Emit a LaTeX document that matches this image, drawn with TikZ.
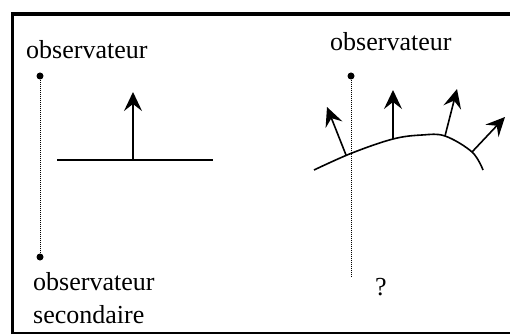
\documentclass[tikz,border=0pt]{standalone}
\usepackage{fontspec}
\setmainfont{Liberation Serif}
\usetikzlibrary{arrows.meta}
\begin{document}
\begin{tikzpicture}[x=1pt,y=-1pt,
  lbl/.style={inner sep=0pt,anchor=base west,font=\fontsize{26}{30}\selectfont},
  dot/.style={circle,fill=black,inner sep=0pt,minimum size=7pt},
  sight/.style={densely dotted,line width=1pt},
  normalarrow/.style={line width=1.6pt,-{Stealth[length=19pt,width=18pt,inset=7pt]}},
  surface/.style={line width=1.6pt}]
\useasboundingbox (0,0) rectangle (510,336);
% frame
\draw[line width=3.5pt] (12.5,334) -- (12.5,12);
\draw[line width=4pt] (10.75,14) -- (510,14);
\draw[line width=1.5pt] (11,333) -- (510,333);
% left panel
\node[lbl] (obs1) at (26,59) {observateur};
\node[dot] (d1) at (40,76) {};
\node[dot] (d2) at (40,257) {};
\draw[sight] (d1) -- (d2);
\node[lbl] (obs2) at (33,290) {observateur};
\node[lbl] (sec) at (33,323) {secondaire};
\coordinate (h1) at (57,160);
\coordinate (h2) at (213,160);
\draw[line width=1.4pt] (h1) -- (h2);
\coordinate (a0) at (133,160);
\coordinate (a0t) at (133,92);
\draw[normalarrow] (a0) -- (a0t);
% right panel
\node[lbl] (obs3) at (330,51) {observateur};
\node[dot] (d3) at (351,76) {};
\coordinate (d3b) at (351,277);
\draw[sight] (d3) -- (d3b);
\node[lbl,anchor=base] (q) at (381,295) {?};
\draw[surface] plot[smooth,tension=0.6] coordinates {(314,170) (352,153) (393,139) (422,135) (445,136) (472,152) (483,170)};
\coordinate (b1) at (346,155); \coordinate (t1) at (327,107);
\coordinate (b2) at (393,139); \coordinate (t2) at (393,90);
\coordinate (b3) at (445,136); \coordinate (t3) at (457,89);
\coordinate (b4) at (472,152); \coordinate (t4) at (505,117);
\draw[normalarrow] (b1) -- (t1);
\draw[normalarrow] (b2) -- (t2);
\draw[normalarrow] (b3) -- (t3);
\draw[normalarrow] (b4) -- (t4);
\end{tikzpicture}
\end{document}
